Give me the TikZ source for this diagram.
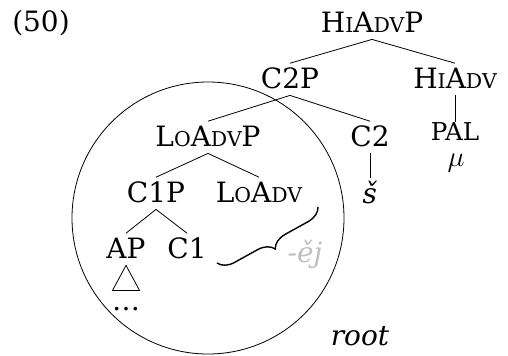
\documentclass[tikz,border=0pt]{standalone}
\usepackage{fontspec}
\setmainfont{DejaVu Serif}
\usepackage{xcolor}
\usetikzlibrary{decorations.pathreplacing}
\definecolor{mygray}{gray}{0.75}
\newcommand{\smcap}[1]{{\fontsize{10.2pt}{12pt}\selectfont #1}}

\begin{document}
\begin{tikzpicture}[x=0.5pt,y=-0.5pt,
every node/.style={anchor=base,inner sep=2pt,text height=10.2pt,text depth=1.5pt,
  font=\fontsize{14pt}{16pt}\selectfont},
lobrace/.style={decorate,decoration={brace,amplitude=8pt},line width=0.7pt}]
\useasboundingbox (0,0) rectangle (508,355);
% labels of the tree
\node (num) at (41,31) {(50)};
\node (hiadvp) at (372,32) {H\smcap{I}A\smcap{DV}P};
\node (c2p) at (290,88) {C2P};
\node (hiadv) at (455,88) {H\smcap{I}A\smcap{DV}};
\node (loadvp) at (208,146) {L\smcap{O}A\smcap{DV}P};
\node (c2) at (370,146) {C2};
\node[inner sep=0pt,text height=9pt,text depth=0pt,font=\fontsize{12.3pt}{14pt}\selectfont] (pal) at (455,140) {PAL};
\node[inner sep=0pt,text height=6pt] (mu) at (456,166) {$\mu$};
\node (sh) at (370,203) {\textit{š}};
\node (c1p) at (156,202) {C1P};
\node (loadv) at (259,202) {L\smcap{O}A\smcap{DV}};
\node (ap) at (126,258) {AP};
\node (c1) at (187,258) {C1};
\node (dots) at (126,310) {\dots};
\node[mygray] (ej) at (305,262) {\textit{-ěj}};
\node (root) at (360,345) {\textit{root}};
% branches
\draw (hiadvp.south) -- (c2p.north);
\draw (hiadvp.south) -- (hiadv.north);
\draw (hiadv.south) -- (pal.north);
\draw (c2p.south) -- (loadvp.north);
\draw (c2p.south) -- (c2.north);
\draw (c2.south) -- (sh.north);
\draw (loadvp.south) -- (c1p.north);
\draw (loadvp.south) -- (loadv.north);
\draw (c1p.south) -- (ap.north);
\draw (c1p.south) -- (c1.north);
\draw (ap.south) -- ++(-13.5,25) -- ++(27,0) -- cycle;
% brace and circle
\coordinate (bt) at (318,207);
\coordinate (bb) at (217,263);
\draw[lobrace] (bt) -- (bb);
\draw (208,218) circle [radius=136];
\end{tikzpicture}
\end{document}
